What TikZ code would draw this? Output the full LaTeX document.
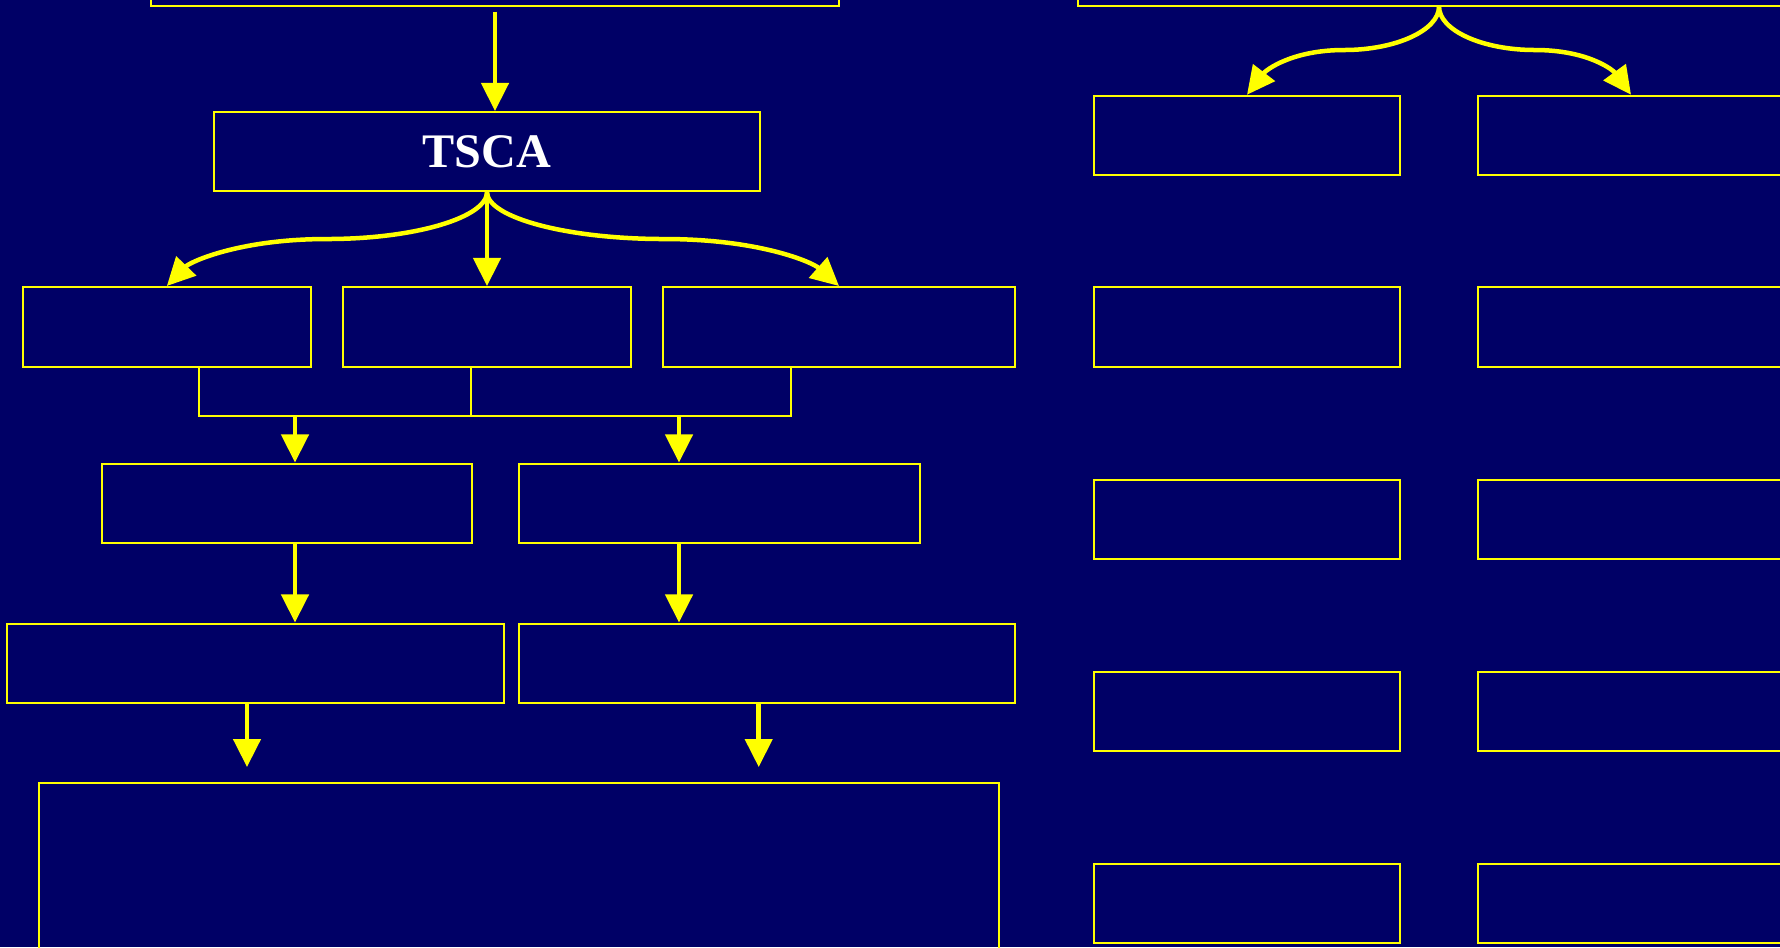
\documentclass[tikz,border=0pt]{standalone}
\usepackage{fontspec}
\setmainfont{Liberation Serif}
\usetikzlibrary{arrows.meta}
\definecolor{bg}{RGB}{0,0,102}
\definecolor{ylw}{RGB}{255,255,0}
\begin{document}
\begin{tikzpicture}[x=0.01cm,y=-0.01cm,
  box/.style={draw=ylw,line width=0.02cm,inner sep=0pt,minimum height=0.795cm},
  arr/.style={draw=ylw,line width=0.045cm,-{Triangle[length=0.28cm,width=0.27cm]}},
  link/.style={draw=ylw,line width=0.02cm},
  colbox/.style={box,minimum width=3.05cm}]
\useasboundingbox (0,0) rectangle (1780,947);
\fill[bg] (0,0) rectangle (1780,947);
\clip (0,0) rectangle (1780,947);
% left tree
\node[box,minimum width=6.88cm,minimum height=0.655cm] (topL) at (495,-27.25) {};
\node[box,minimum width=5.45cm,minimum height=0.79cm,text=white,font=\fontsize{13.7pt}{16pt}\selectfont\bfseries] (tsca) at (487,151.5) {TSCA};
\node[box,minimum width=2.883cm,minimum height=0.8cm] (A) at (166.85,327) {};
\node[box,minimum width=2.877cm,minimum height=0.8cm] (B) at (486.65,327) {};
\node[box,minimum width=3.52cm,minimum height=0.8cm] (C) at (839,327) {};
\node[box,minimum width=3.69cm] (D) at (287,503.25) {};
\node[box,minimum width=4.004cm] (E) at (719.2,503.25) {};
\node[box,minimum width=4.97cm] (F) at (255.15,663.25) {};
\node[box,minimum width=4.962cm] (G) at (767.1,663.25) {};
\node[box,minimum width=9.6cm,minimum height=2.5cm] (H) at (519,908.5) {};
% right columns
\node[box,minimum width=7.22cm,minimum height=0.655cm] (topR) at (1439,-27.25) {};
\node[colbox] (ra1) at (1247,135.5) {};
\node[colbox] (ra2) at (1247,327) {};
\node[colbox] (ra3) at (1247,519.25) {};
\node[colbox] (ra4) at (1247,711.25) {};
\node[colbox] (ra5) at (1247,903.25) {};
\node[colbox] (rb1) at (1631,135.5) {};
\node[colbox] (rb2) at (1631,327) {};
\node[colbox] (rb3) at (1631,519.25) {};
\node[colbox] (rb4) at (1631,711.25) {};
\node[colbox] (rb5) at (1631,903.25) {};
% connectors
\draw[arr] ([yshift=-0.052cm]topL.south) -- (topL.south |- tsca.north);
\draw[arr] (tsca.south) .. controls (487,217.4) and (415,239) .. (327,239)
  .. controls (239,239) and (190,262) .. (A.north);
\draw[arr] (tsca.south) -- (tsca.south |- B.north);
\draw[arr] (tsca.south) .. controls (487,217.4) and (566.6,239) .. (664,239)
  .. controls (759,239) and (812,262) .. (C.north);
\coordinate (ba) at (198.7,416);
\coordinate (bb) at (471,416);
\coordinate (bc) at (791,416);
\draw[link] (ba |- A.south) -- (ba) -- (bc) -- (bc |- C.south);
\draw[link] (bb |- B.south) -- (bb);
\coordinate (bd) at (295,416);
\coordinate (be) at (679,416);
\draw[arr] (bd) -- (bd |- D.north);
\draw[arr] (be) -- (be |- E.north);
\draw[arr] (bd |- D.south) -- (bd |- F.north);
\draw[arr] (be |- E.south) -- (be |- G.north);
\coordinate (fa) at (247,767);
\coordinate (ga) at (758.7,767);
\draw[arr] (fa |- F.south) -- (fa);
\draw[arr] (ga |- G.south) -- (ga);
\draw[arr] (topR.south) .. controls (1439,30.2) and (1396,50) .. (1344,50)
  .. controls (1292,50) and (1266,70) .. (ra1.north);
\draw[arr] (topR.south) .. controls (1439,30.2) and (1482,50) .. (1535,50)
  .. controls (1588,50) and (1613,70) .. (rb1.north);
\end{tikzpicture}
\end{document}
